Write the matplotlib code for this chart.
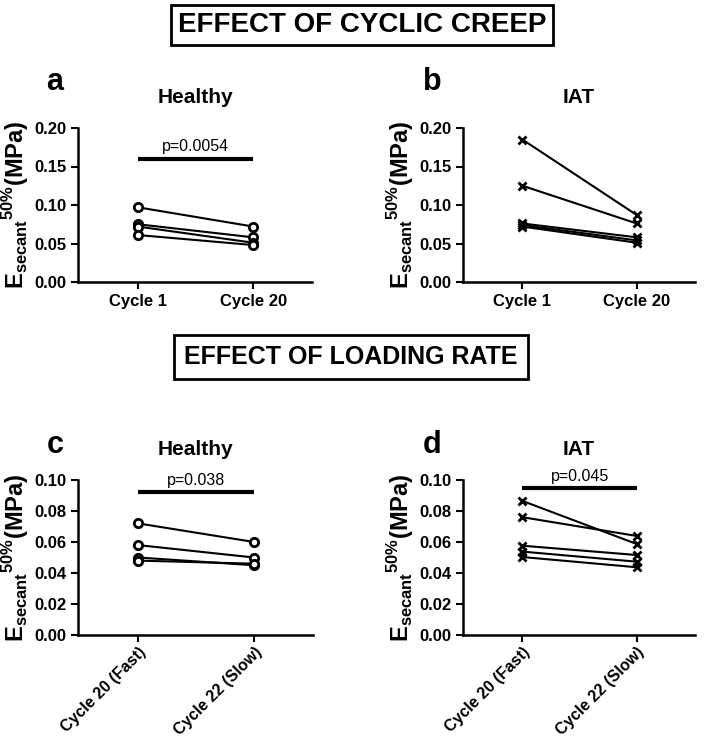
import numpy as np
import matplotlib
matplotlib.use('Agg')
import matplotlib.pyplot as plt

plt.rcParams['font.family'] = 'Liberation Sans'
plt.rcParams['mathtext.fontset'] = 'custom'
plt.rcParams['mathtext.rm'] = 'Liberation Sans'
plt.rcParams['mathtext.bf'] = 'Liberation Sans:bold'

# data
creep_labels = ['Cycle 1', 'Cycle 20']
rate_labels = ['Cycle 20 (Fast)', 'Cycle 22 (Slow)']

healthy_c1 = [0.097, 0.075, 0.072, 0.061]
healthy_c20 = [0.072, 0.058, 0.051, 0.048]

iat_c1 = [0.185, 0.125, 0.076, 0.074, 0.072]
iat_c20 = [0.087, 0.076, 0.058, 0.054, 0.051]

healthy_fast = [0.072, 0.058, 0.050, 0.048]
healthy_slow = [0.060, 0.050, 0.045, 0.046]

iat_fast = [0.0865, 0.076, 0.0576, 0.0538, 0.0503]
iat_slow = [0.0587, 0.0639, 0.0516, 0.0473, 0.0437]

W, H = 704, 741
fig = plt.figure(figsize=(W/100, H/100), dpi=100)

def box(l, t, r, b):
    return [l/W, 1-b/H, (r-l)/W, (b-t)/H]

ylab = r'$\mathbf{E}_{\mathbf{secant}}{}^{\mathbf{50\%}}\mathbf{(MPa)}$'

def panel(rect, before, after, labels, marker, ymax, step, title, letter, lpos,
          pval=None, pbar=None, rot=False):
    ax = fig.add_axes(box(*rect))
    for v1, v2 in zip(before, after):
        if marker == 'o':
            ax.plot([0, 1], [v1, v2], color='black', lw=1.5, marker='o', ms=6,
                    mfc='white', mec='black', mew=2, zorder=3)
        else:
            ax.plot([0, 1], [v1, v2], color='black', lw=1.5, marker='x', ms=6,
                    mec='black', mew=2, zorder=3)
    ax.set_xlim(-0.52, 1.51)
    ax.set_ylim(0, ymax)
    ticks = np.arange(0, ymax + step/2, step)
    ax.set_yticks(ticks)
    ax.set_yticklabels(['%.2f' % v for v in ticks])
    ax.set_xticks([0, 1])
    if rot:
        ax.set_xticklabels(labels, rotation=45, ha='right', rotation_mode='anchor',
                           fontsize=11.5)
    else:
        ax.set_xticklabels(labels, fontsize=12)
    for s in ['top', 'right']:
        ax.spines[s].set_visible(False)
    for s in ['left', 'bottom']:
        ax.spines[s].set_linewidth(1.8)
    ax.tick_params(direction='out', length=5, width=1.5)
    ax.tick_params(axis='y', labelsize=12)
    if rot:
        ax.tick_params(axis='x', pad=2)
    for t in ax.get_xticklabels() + ax.get_yticklabels():
        t.set_fontweight('bold')
    ax.set_ylabel(ylab, fontsize=17, labelpad=2)
    ax.set_title(title, fontsize=15, fontweight='bold', pad=18)
    fig.text(lpos[0]/W, 1-lpos[1]/H, letter, fontsize=22, fontweight='bold',
             ha='center', va='center')
    if pval is not None:
        ax.plot([0, 1], [pbar, pbar], color='black', lw=3, solid_capstyle='butt')
        ax.text(0.5, pbar + ymax*0.03, pval, ha='center', va='bottom', fontsize=11.5)
    return ax

panel((78, 128, 312, 282), healthy_c1, healthy_c20, creep_labels, 'o', 0.20, 0.05,
      'Healthy', 'a', (55, 82), 'p=0.0054', 0.16)
panel((463, 128, 695, 282), iat_c1, iat_c20, creep_labels, 'x', 0.20, 0.05,
      'IAT', 'b', (432, 82))
panel((78, 480, 313, 635), healthy_fast, healthy_slow, rate_labels, 'o', 0.10, 0.02,
      'Healthy', 'c', (55, 445), 'p=0.038', 0.092, rot=True)
panel((463, 480, 695, 635), iat_fast, iat_slow, rate_labels, 'x', 0.10, 0.02,
      'IAT', 'd', (432, 445), 'p=0.045', 0.0946, rot=True)

fig.text(362/W, 1-25/H, 'EFFECT OF CYCLIC CREEP', fontsize=20, fontweight='bold',
         ha='center', va='center',
         bbox=dict(boxstyle='square,pad=0.25', fc='white', ec='black', lw=2))
fig.text(351/W, 1-357/H, 'EFFECT OF LOADING RATE', fontsize=18, fontweight='bold',
         ha='center', va='center',
         bbox=dict(boxstyle='square,pad=0.4', fc='white', ec='black', lw=2))

fig.savefig('out.png', dpi=100)
